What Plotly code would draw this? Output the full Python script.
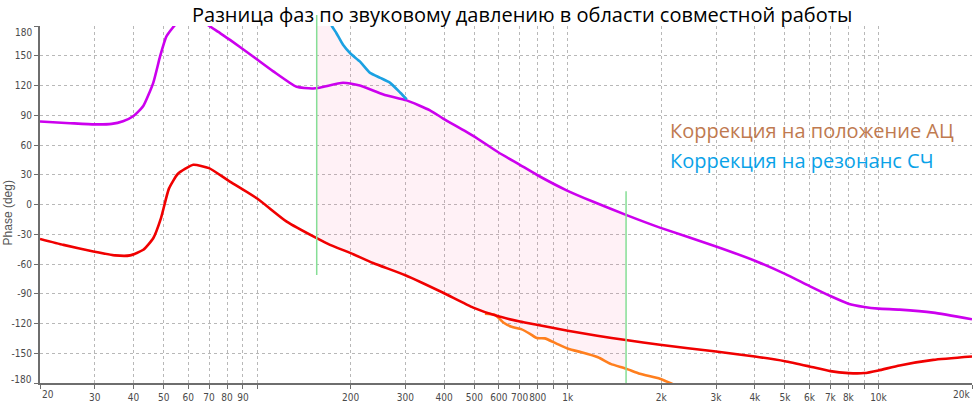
import numpy as np
import plotly.graph_objects as go

# ---------------- data ----------------
TITLE = "Разница фаз по звуковому давлению в области совместной работы"
LEGEND_ACOUSTIC = "Коррекция на положение АЦ"
LEGEND_RESONANCE = "Коррекция на резонанс СЧ"
Y_TITLE = "Phase (deg)"

magenta_f = [20, 25, 30, 34, 37, 40, 43, 46.3, 48.7, 51, 54.4, 58, 62, 66, 68, 75, 81.8, 97,
             112.7, 134, 150, 160, 189, 214, 255, 303, 360, 397, 496, 597, 701, 794, 991,
             1208, 1546, 1979, 3000, 4000, 5000, 6000, 7000, 8000, 9000, 10000, 11700,
             15000, 20000]
magenta_deg = [83.7, 82, 80.8, 81.3, 84, 89.3, 99.3, 122.7, 149.3, 169.3, 181, 188, 190, 187,
               183, 174, 166, 149.3, 134.3, 118.7, 117, 118, 122.7, 120, 111, 105, 95, 86.7,
               69.3, 52.7, 40, 30, 14.3, 2.7, -10.7, -23.3, -42.3, -56.7, -70, -82.3, -92.3,
               -100, -103.3, -105, -106, -109, -115.7]

red_f = [20, 23.8, 29.7, 34.9, 39, 43, 46.3, 49, 52, 55.6, 62.3, 70, 80.6, 100, 124.5, 155.5,
         171.6, 200, 236, 300, 397, 496, 590, 701, 794, 1000, 1244, 1538, 1979, 3000, 4000,
         5000, 6000, 7000, 8000, 9000, 10000, 11700, 15000, 20000]
red_deg = [-34.7, -40.7, -47.3, -51.3, -51.3, -45.7, -34, -14, 16, 31, 40, 36.7, 24.3, 6, -17.3,
           -34, -40.7, -49, -59, -71.3, -89, -104, -112.3, -118, -121.3, -127.3, -132.3, -136.7,
           -141.5, -148.3, -153.3, -158, -163.3, -168, -170, -170, -167.3, -162.3, -156.7, -153.3]

orange_f = [541, 583, 620, 659, 708, 758, 794, 843, 916, 1007, 1107, 1250, 1373, 1538, 1706,
            1979, 2184, 2250]
orange_deg = [-110, -111.3, -119, -123.3, -125.7, -130.7, -134.7, -135, -140, -145.7, -149,
              -154, -160.7, -165.5, -170.7, -175.7, -181.3, -183]

blue_f = [155.5, 165, 174, 180, 189, 200, 214, 231, 249, 268, 289, 303]
blue_deg = [212, 195, 180, 172.7, 161, 152, 144.3, 132.7, 127.7, 122.7, 112.7, 106]

marker_f = [155.5, 1540]
marker_top = [191, 13.3]
marker_bottom = [-71, -180]

x_tickvals = [20, 30, 40, 50, 60, 70, 80, 90, 100, 200, 300, 400, 500, 600, 700, 800, 900,
              1000, 2000, 3000, 4000, 5000, 6000, 7000, 8000, 9000, 10000, 20000]
x_ticktext = ["20", "30", "40", "50", "60", "70", "80", "90", "", "200", "300", "400", "500",
              "600", "700", "800", "", "1k", "2k", "3k", "4k", "5k", "6k", "7k", "8k", "",
              "10k", "20k"]
y_tickvals = [-180, -150, -120, -90, -60, -30, 0, 30, 60, 90, 120, 150, 180]

Y_RANGE = [-180, 180]
X_RANGE = [20, 20000]

# ---------------- styles ----------------
C_MAGENTA = "#CC00EE"
C_RED = "#F00000"
C_ORANGE = "#FF7F1E"
C_BLUE = "#1BA1E2"
C_GREEN = "#86DE96"
C_FILL = "rgba(255,105,160,0.09)"
C_GRID = "#B8B8B8"
C_AXIS = "#6E6E6E"
TICK_FONT = dict(family="DejaVu Sans Condensed, Liberation Sans Narrow, Arial", size=10, color="#4A4A4A")
TEXT_FAMILY = "Open Sans, Noto Sans, sans-serif"

# ---------------- fill region ----------------
def interp_log(f, xs, ys):
    return np.interp(np.log10(f), np.log10(xs), ys)

f0, f1 = marker_f
grid = sorted(set([f for f in magenta_f + red_f + orange_f + blue_f if f0 <= f <= f1] + [f0, f1]))
grid = np.array(grid, dtype=float)
upper = np.where(grid <= blue_f[-1], interp_log(grid, blue_f, blue_deg),
                 interp_log(grid, magenta_f, magenta_deg))
lower = np.where(grid < orange_f[0], interp_log(grid, red_f, red_deg),
                 interp_log(grid, orange_f, orange_deg))

fig = go.Figure()
fig.add_trace(go.Scatter(x=np.concatenate([grid, grid[::-1]]),
                         y=np.concatenate([upper, lower[::-1]]),
                         fill="toself", fillcolor=C_FILL, line=dict(width=0),
                         mode="lines", hoverinfo="skip", showlegend=False))

for fx, fy, col in [(magenta_f, magenta_deg, C_MAGENTA), (orange_f, orange_deg, C_ORANGE),
                    (red_f, red_deg, C_RED), (blue_f, blue_deg, C_BLUE)]:
    fig.add_trace(go.Scatter(x=fx, y=fy, mode="lines",
                             line=dict(color=col, width=2.6, shape="spline", smoothing=0.5),
                             showlegend=False))

# marker lines (green), positioned through the axis ranges
def y_to_paper(d):
    return (d - Y_RANGE[0]) / (Y_RANGE[1] - Y_RANGE[0])

def x_to_paper(f):
    lo, hi = np.log10(X_RANGE[0]), np.log10(X_RANGE[1])
    return (np.log10(f) - lo) / (hi - lo)

for f, t, b in zip(marker_f, marker_top, marker_bottom):
    xp = float(x_to_paper(f))
    fig.add_shape(type="line", xref="paper", yref="paper", x0=xp, x1=xp,
                  y0=y_to_paper(b), y1=y_to_paper(t), line=dict(color=C_GREEN, width=1.5),
                  layer="above")

annotations = [
    dict(text=TITLE, xref="paper", yref="paper", x=0.517, y=1.033, xanchor="center",
         yanchor="middle", showarrow=False, font=dict(family=TEXT_FAMILY, size=20, color="#000")),
    dict(text=LEGEND_ACOUSTIC, xref="paper", yref="paper", x=0.674, y=0.708, xanchor="left",
         yanchor="middle", showarrow=False, font=dict(family=TEXT_FAMILY, size=20, color="#C07A50")),
    dict(text=LEGEND_RESONANCE, xref="paper", yref="paper", x=0.674, y=0.622, xanchor="left",
         yanchor="middle", showarrow=False, font=dict(family=TEXT_FAMILY, size=20, color="#0AA2E8")),
    dict(text=Y_TITLE, xref="paper", yref="paper", x=-0.0343, y=0.475, xanchor="center",
         yanchor="middle", textangle=-90, showarrow=False,
         font=dict(family="Liberation Sans, Arial", size=12, color="#555")),
    # edge tick labels, shifted inward as in the original
    dict(text=str(y_tickvals[-1]), xref="paper", yref="y", x=0, y=y_tickvals[-1], xanchor="right",
         yanchor="middle", xshift=-6, yshift=-6, showarrow=False, font=TICK_FONT),
    dict(text=str(y_tickvals[0]), xref="paper", yref="y", x=0, y=y_tickvals[0], xanchor="right",
         yanchor="middle", xshift=-6, yshift=4, showarrow=False, font=TICK_FONT),
    dict(text=x_ticktext[0], xref="x", yref="paper", x=np.log10(x_tickvals[0]), y=0,
         xanchor="left", yanchor="top", yshift=-4, showarrow=False, font=TICK_FONT),
    dict(text=x_ticktext[-1], xref="x", yref="paper", x=np.log10(x_tickvals[-1]), y=0,
         xanchor="right", yanchor="top", yshift=-4, showarrow=False, font=TICK_FONT),
]

x_ticktext_axis = [""] + x_ticktext[1:-1] + [""]
y_ticktext_axis = [""] + [str(v) for v in y_tickvals[1:-1]] + [""]

fig.update_layout(
    width=974, height=405,
    margin=dict(l=40, r=2, t=26, b=19),
    paper_bgcolor="white", plot_bgcolor="white",
    annotations=annotations,
    xaxis=dict(type="log", range=[np.log10(X_RANGE[0]), np.log10(X_RANGE[1])],
               tickvals=x_tickvals, ticktext=x_ticktext_axis, tickfont=TICK_FONT, tickangle=0,
               showgrid=True, gridcolor=C_GRID, griddash="dot", gridwidth=1,
               showline=True, linecolor=C_AXIS, linewidth=2, ticks="outside", ticklen=4,
               tickcolor=C_AXIS, zeroline=False, fixedrange=True),
    yaxis=dict(range=Y_RANGE, tickvals=y_tickvals, ticktext=y_ticktext_axis, tickfont=TICK_FONT,
               showgrid=True, gridcolor=C_GRID, griddash="dot", gridwidth=1,
               showline=True, linecolor=C_AXIS, linewidth=2, ticks="outside", ticklen=4,
               tickcolor=C_AXIS, zeroline=False, fixedrange=True),
)

fig.write_html("out.html")
